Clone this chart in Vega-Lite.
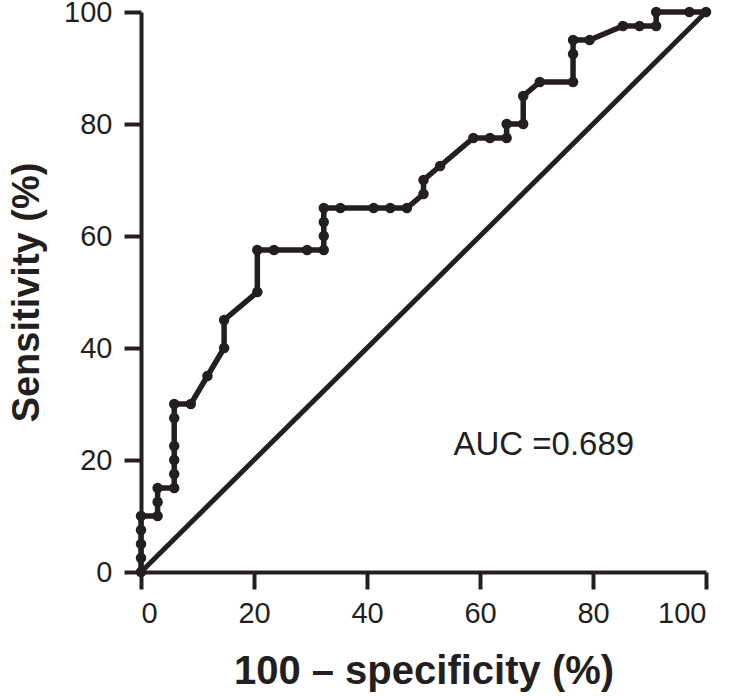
{
  "$schema": "https://vega.github.io/schema/vega-lite/v6.json",
  "width": 565,
  "height": 560,
  "autosize": {"type": "none"},
  "padding": {"left": 141, "top": 12, "right": 25, "bottom": 125},
  "background": "white",
  "config": {
    "view": {"stroke": null},
    "font": "Liberation Sans",
    "axis": {
      "grid": false,
      "domainColor": "#231f20",
      "domainWidth": 4,
      "tickColor": "#231f20",
      "tickWidth": 4,
      "tickSize": 17,
      "labelFont": "Liberation Sans",
      "labelFontSize": 29,
      "labelColor": "#231f20",
      "titleFont": "Liberation Sans",
      "titleFontSize": 40,
      "titleFontWeight": "bold",
      "titleColor": "#231f20"
    }
  },
  "datasets": {
    "roc": [
      {"order": 1, "fpr": 0, "tpr": 0},
      {"order": 2, "fpr": 0, "tpr": 2.5},
      {"order": 3, "fpr": 0, "tpr": 5},
      {"order": 4, "fpr": 0, "tpr": 7.5},
      {"order": 5, "fpr": 0, "tpr": 10},
      {"order": 6, "fpr": 2.94, "tpr": 10},
      {"order": 7, "fpr": 2.94, "tpr": 12.5},
      {"order": 8, "fpr": 2.94, "tpr": 15},
      {"order": 9, "fpr": 5.88, "tpr": 15},
      {"order": 10, "fpr": 5.88, "tpr": 17.5},
      {"order": 11, "fpr": 5.88, "tpr": 20},
      {"order": 12, "fpr": 5.88, "tpr": 22.5},
      {"order": 13, "fpr": 5.88, "tpr": 27.5},
      {"order": 14, "fpr": 5.88, "tpr": 30},
      {"order": 15, "fpr": 8.82, "tpr": 30},
      {"order": 16, "fpr": 11.76, "tpr": 35},
      {"order": 17, "fpr": 14.71, "tpr": 40},
      {"order": 18, "fpr": 14.71, "tpr": 45},
      {"order": 19, "fpr": 20.59, "tpr": 50},
      {"order": 20, "fpr": 20.59, "tpr": 57.5},
      {"order": 21, "fpr": 23.53, "tpr": 57.5},
      {"order": 22, "fpr": 29.41, "tpr": 57.5},
      {"order": 23, "fpr": 32.35, "tpr": 57.5},
      {"order": 24, "fpr": 32.35, "tpr": 60},
      {"order": 25, "fpr": 32.35, "tpr": 62.5},
      {"order": 26, "fpr": 32.35, "tpr": 65},
      {"order": 27, "fpr": 35.29, "tpr": 65},
      {"order": 28, "fpr": 41.18, "tpr": 65},
      {"order": 29, "fpr": 44.12, "tpr": 65},
      {"order": 30, "fpr": 47.06, "tpr": 65},
      {"order": 31, "fpr": 50, "tpr": 67.5},
      {"order": 32, "fpr": 50, "tpr": 70},
      {"order": 33, "fpr": 52.94, "tpr": 72.5},
      {"order": 34, "fpr": 58.82, "tpr": 77.5},
      {"order": 35, "fpr": 61.76, "tpr": 77.5},
      {"order": 36, "fpr": 64.71, "tpr": 77.5},
      {"order": 37, "fpr": 64.71, "tpr": 80},
      {"order": 38, "fpr": 67.65, "tpr": 80},
      {"order": 39, "fpr": 67.65, "tpr": 85},
      {"order": 40, "fpr": 70.59, "tpr": 87.5},
      {"order": 41, "fpr": 76.47, "tpr": 87.5},
      {"order": 42, "fpr": 76.47, "tpr": 92.5},
      {"order": 43, "fpr": 76.47, "tpr": 95},
      {"order": 44, "fpr": 79.41, "tpr": 95},
      {"order": 45, "fpr": 85.29, "tpr": 97.5},
      {"order": 46, "fpr": 88.24, "tpr": 97.5},
      {"order": 47, "fpr": 91.18, "tpr": 97.5},
      {"order": 48, "fpr": 91.18, "tpr": 100},
      {"order": 49, "fpr": 97.06, "tpr": 100},
      {"order": 50, "fpr": 100, "tpr": 100}
    ],
    "diag": [
      {"order": 1, "fpr": 0, "tpr": 0},
      {"order": 2, "fpr": 100, "tpr": 100}
    ],
    "label": [
      {"fpr": 55.3, "tpr": 20.9, "text": "AUC =0.689"}
    ]
  },
  "encoding": {
    "x": {
      "field": "fpr", "type": "quantitative",
      "scale": {"domain": [0, 100], "nice": false, "zero": false},
      "axis": {"values": [0, 20, 40, 60, 80, 100], "title": "100 – specificity (%)", "labelPadding": 10, "titlePadding": 23}
    },
    "y": {
      "field": "tpr", "type": "quantitative",
      "scale": {"domain": [0, 100], "nice": false, "zero": false},
      "axis": {"values": [0, 20, 40, 60, 80, 100], "title": "Sensitivity (%)", "titleFontSize": 38, "labelPadding": 12, "titlePadding": 17}
    }
  },
  "layer": [
    {
      "data": {"name": "diag"},
      "mark": {"type": "line", "color": "#231f20", "strokeWidth": 5, "clip": false},
      "encoding": {"order": {"field": "order", "type": "quantitative"}}
    },
    {
      "data": {"name": "roc"},
      "mark": {"type": "line", "color": "#231f20", "strokeWidth": 5.5, "strokeJoin": "miter", "clip": false},
      "encoding": {"order": {"field": "order", "type": "quantitative"}}
    },
    {
      "data": {"name": "roc"},
      "mark": {"type": "point", "filled": true, "shape": "circle", "size": 110, "opacity": 1, "color": "#231f20", "clip": false}
    },
    {
      "data": {"name": "label"},
      "mark": {"type": "text", "align": "left", "baseline": "alphabetic", "fontSize": 33, "color": "#231f20", "font": "Liberation Sans"},
      "encoding": {"text": {"field": "text"}}
    }
  ]
}
